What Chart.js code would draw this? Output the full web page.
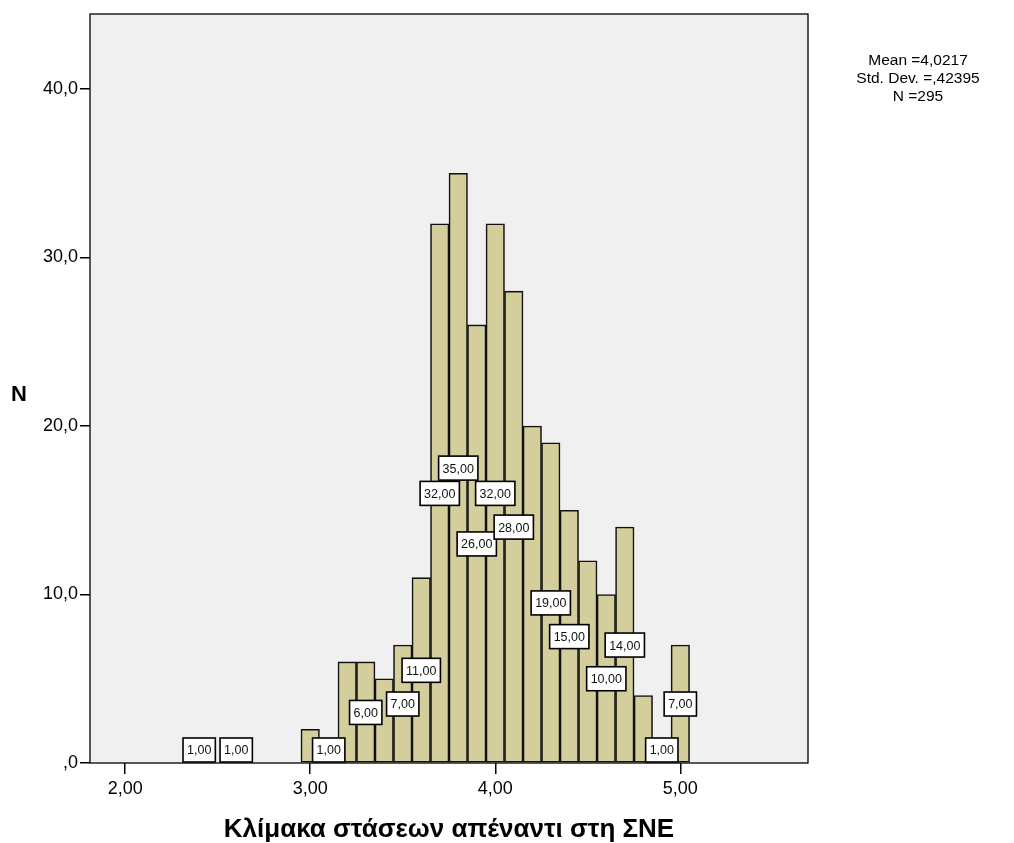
<!DOCTYPE html>
<html>
<head>
<meta charset="utf-8">
<script src="https://cdn.jsdelivr.net/npm/chart.js@4"></script>
<style>
  html, body { margin: 0; padding: 0; background: #fff; }
  #wrap { width: 1014px; height: 843px; }
</style>
</head>
<body>
<div id="wrap"><canvas id="hist"></canvas></div>
<script>
// histogram bins (bin centre) and frequencies
const binCenters = [2.4, 2.6, 3.0, 3.1, 3.2, 3.3, 3.4, 3.5, 3.6, 3.7, 3.8, 3.9, 4.0, 4.1, 4.2, 4.3, 4.4, 4.5, 4.6, 4.7, 4.8, 4.9, 5.0];
const counts     = [1,   1,   2,   1,   6,   6,   5,   7,   11,  32,  35,  26,  32,  28,  20,  19,  15,  12,  10,  14,  4,   1,   7];
// bins that carry a value box in the original
const labelledBins = [2.4, 2.6, 3.1, 3.3, 3.5, 3.6, 3.7, 3.8, 3.9, 4.0, 4.1, 4.3, 4.4, 4.6, 4.7, 4.9, 5.0];
const xTicks = [2, 3, 4, 5];
const yTicks = [0, 10, 20, 30, 40];
const statsLines = ['Mean =4,0217', 'Std. Dev. =,42395', 'N =295'];
const xTitle = 'Κλίμακα στάσεων απέναντι στη ΣΝΕ';
const yTitle = 'N';

const FONT = '"Liberation Sans", Arial, sans-serif';

const comma = (v, d) => {
  let s = v.toFixed(d).replace('.', ',');
  if (s.startsWith('0,')) s = s.slice(1);
  return s;
};

const plotBg = {
  id: 'plotBg',
  beforeDraw(chart) {
    const {ctx, chartArea: a} = chart;
    ctx.save();
    ctx.fillStyle = '#f0f0f0';
    ctx.fillRect(a.left, a.top, a.right - a.left, a.bottom - a.top);
    ctx.restore();
  },
  afterDraw(chart) {
    const {ctx, chartArea: a} = chart;
    ctx.save();
    ctx.strokeStyle = '#000';
    ctx.lineWidth = 1.3;
    ctx.strokeRect(a.left, a.top, a.right - a.left, a.bottom - a.top);
    ctx.restore();
  }
};

const valueBoxes = {
  id: 'valueBoxes',
  afterDatasetsDraw(chart) {
    const {ctx, scales} = chart;
    const bars = chart.getDatasetMeta(0).data;
    ctx.save();
    ctx.font = '12.5px ' + FONT;
    ctx.textAlign = 'center';
    ctx.textBaseline = 'middle';
    binCenters.forEach((b, i) => {
      if (!labelledBins.includes(b)) return;
      const txt = comma(counts[i], 2);
      const w = ctx.measureText(txt).width + 8;
      const h = 24;
      const x = bars[i].x;
      let y = scales.y.getPixelForValue(counts[i] / 2);
      const maxY = scales.y.getPixelForValue(0) - 1 - h / 2;
      if (y > maxY) y = maxY;
      ctx.fillStyle = '#fff';
      ctx.fillRect(x - w / 2, y - h / 2, w, h);
      ctx.strokeStyle = '#000';
      ctx.lineWidth = 1.6;
      ctx.strokeRect(x - w / 2, y - h / 2, w, h);
      ctx.fillStyle = '#111';
      ctx.fillText(txt, x, y + 1);
    });
    ctx.restore();
  }
};

const extraText = {
  id: 'extraText',
  afterDraw(chart) {
    const {ctx, chartArea: a} = chart;
    ctx.save();
    ctx.fillStyle = '#000';
    ctx.textAlign = 'center';
    ctx.textBaseline = 'middle';
    ctx.font = '15.5px ' + FONT;
    statsLines.forEach((s, i) => ctx.fillText(s, 918, 61 + i * 18));
    ctx.font = 'bold 22px ' + FONT;
    ctx.fillText(yTitle, 19, 395);
    ctx.font = 'bold 26px ' + FONT;
    ctx.fillText(xTitle, (a.left + a.right) / 2, 830);
    ctx.restore();
  }
};

new Chart(document.getElementById('hist'), {
  type: 'bar',
  data: {
    datasets: [{
      data: binCenters.map((b, i) => ({x: b, y: counts[i]})),
      backgroundColor: '#d3ce9b',
      borderColor: '#111',
      borderWidth: 1.6,
      borderSkipped: false,
      barPercentage: 1,
      categoryPercentage: 1
    }]
  },
  options: {
    responsive: true,
    maintainAspectRatio: false,
    animation: false,
    layout: {padding: {left: 0, right: 206, top: 14, bottom: 0}},
    plugins: {legend: {display: false}, tooltip: {enabled: false}},
    scales: {
      x: {
        type: 'linear',
        min: 1.81,
        max: 5.69,
        offset: false,
        afterBuildTicks: s => { s.ticks = xTicks.map(v => ({value: v})); },
        afterFit: s => { s.height = 80; },
        grid: {display: true, offset: false, drawOnChartArea: false, drawTicks: true, tickLength: 11, color: '#000', lineWidth: 1.5},
        border: {display: false},
        ticks: {
          color: '#000', padding: 4,
          font: {family: FONT, size: 18},
          callback: v => comma(v, 2)
        }
      },
      y: {
        min: 0,
        max: 44.45,
        afterBuildTicks: s => { s.ticks = yTicks.map(v => ({value: v})); },
        afterFit: s => { s.width = 90; },
        grid: {display: true, drawOnChartArea: false, drawTicks: true, tickLength: 10, color: '#000', lineWidth: 1.5},
        border: {display: false},
        ticks: {
          color: '#000', padding: 2,
          font: {family: FONT, size: 18},
          callback: v => comma(v, 1)
        }
      }
    }
  },
  plugins: [plotBg, valueBoxes, extraText]
});
</script>
</body>
</html>
